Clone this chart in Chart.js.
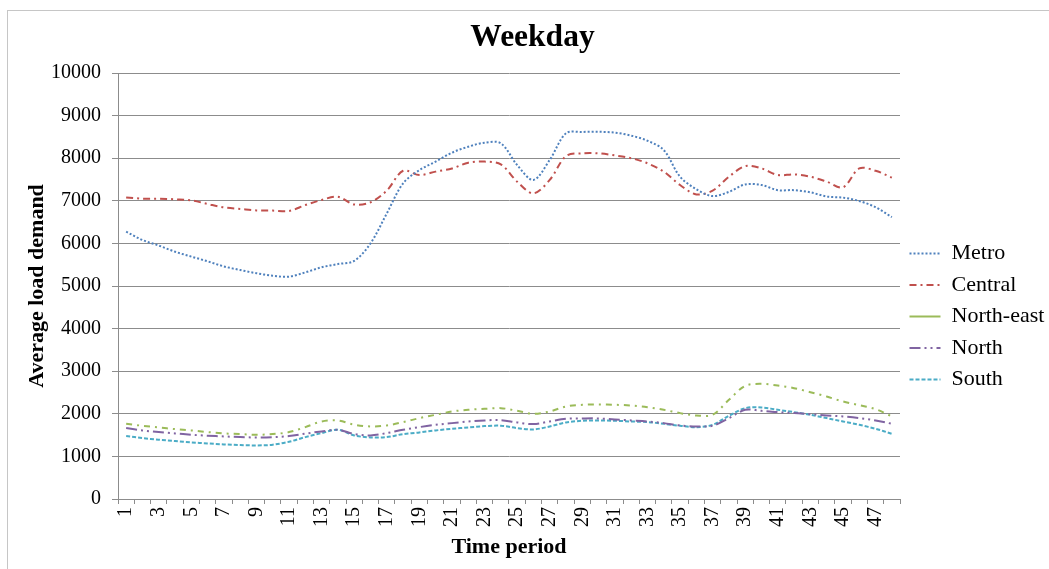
<!DOCTYPE html>
<html>
<head>
<meta charset="utf-8">
<title>Weekday</title>
<script src="https://cdn.jsdelivr.net/npm/chart.js@4/dist/chart.umd.min.js"></script>
<style>
  html, body { margin: 0; padding: 0; background: #fff; }
  #wrap { position: absolute; left: 0; top: 0; width: 1049px; height: 569px; }
  #frame { position: absolute; left: 7px; top: 10px; width: 1060px; height: 600px;
           border: 1px solid #c6c6c6; box-sizing: border-box; pointer-events: none; }
</style>
</head>
<body>
<div id="wrap"><canvas id="chart"></canvas></div>
<div id="frame"></div>
<script>
// Half-hour time periods of the day
const periods = ['1','2','3','4','5','6','7','8','9','10','11','12','13','14','15','16',
  '17','18','19','20','21','22','23','24','25','26','27','28','29','30','31','32',
  '33','34','35','36','37','38','39','40','41','42','43','44','45','46','47','48'];

// Average load demand per region
const metro = [6275, 6080, 5950, 5805, 5690, 5580, 5460, 5375, 5300, 5240,
  5220, 5320, 5440, 5515, 5590, 6000, 6705, 7410, 7720, 7920,
  8130, 8270, 8365, 8350, 7840, 7490, 7960, 8585, 8615, 8620,
  8600, 8530, 8410, 8190, 7565, 7270, 7110, 7210, 7385, 7370,
  7250, 7250, 7200, 7100, 7075, 6995, 6850, 6615];
const central = [7080, 7050, 7050, 7035, 7010, 6925, 6845, 6810, 6775, 6770,
  6760, 6900, 7020, 7095, 6915, 6965, 7240, 7705, 7605, 7685,
  7760, 7895, 7920, 7855, 7450, 7175, 7490, 8050, 8115, 8115,
  8065, 8000, 7880, 7685, 7370, 7150, 7240, 7565, 7815, 7760,
  7605, 7620, 7565, 7450, 7315, 7760, 7705, 7545];
const northEast = [1766, 1719, 1680, 1641, 1610, 1571, 1539, 1524, 1508, 1524,
  1571, 1688, 1820, 1844, 1742, 1703, 1726, 1805, 1898, 1977,
  2055, 2094, 2117, 2133, 2070, 2000, 2055, 2172, 2211, 2219,
  2211, 2195, 2156, 2094, 2016, 1961, 1977, 2328, 2656, 2703,
  2664, 2602, 2508, 2406, 2289, 2203, 2110, 1938];
const north = [1664, 1610, 1571, 1539, 1508, 1485, 1469, 1453, 1445, 1453,
  1477, 1535, 1586, 1625, 1524, 1492, 1547, 1625, 1688, 1742,
  1781, 1820, 1844, 1852, 1797, 1758, 1820, 1883, 1891, 1891,
  1867, 1844, 1820, 1781, 1727, 1703, 1719, 1899, 2094, 2070,
  2039, 2016, 1992, 1961, 1938, 1899, 1844, 1766];
const south = [1477, 1430, 1391, 1360, 1328, 1305, 1282, 1266, 1258, 1274,
  1344, 1453, 1547, 1625, 1492, 1445, 1453, 1524, 1563, 1610,
  1649, 1680, 1711, 1720, 1664, 1633, 1703, 1797, 1836, 1844,
  1836, 1820, 1805, 1766, 1719, 1684, 1742, 1953, 2133, 2148,
  2094, 2039, 1977, 1899, 1820, 1742, 1649, 1531];

const seriesNames = ['Metro', 'Central', 'North-east', 'North', 'South'];

const SERIF = "'Liberation Serif', 'Times New Roman', Times, serif";
const GRID = '#8c8c8c';

Chart.defaults.font.family = SERIF;
Chart.defaults.color = '#000';

function lineSet(label, data, color, dash, extra) {
  return Object.assign({
    label, data,
    borderColor: color,
    backgroundColor: color,
    borderWidth: 2,
    borderDash: dash,
    borderCapStyle: 'butt',
    pointRadius: 0,
    pointHoverRadius: 0,
    tension: 0.33,
    fill: false
  }, extra || {});
}

const datasets = [
  lineSet(seriesNames[0], metro, '#4F81BD', [2, 2]),
  lineSet(seriesNames[1], central, '#C0504D', [7, 4, 2, 4]),
  lineSet(seriesNames[2], northEast, '#9BBB59', [6, 5, 2, 5], { legendSolid: true }),
  lineSet(seriesNames[3], north, '#8064A2', [11, 4, 2, 4, 2, 4]),
  lineSet(seriesNames[4], south, '#4BACC6', [4, 2])
];

new Chart(document.getElementById('chart'), {
  type: 'line',
  data: { labels: periods, datasets },
  options: {
    responsive: true,
    maintainAspectRatio: false,
    animation: false,
    layout: { padding: { left: 16, right: 0, top: 0, bottom: 0 } },
    plugins: {
      title: {
        display: true,
        text: 'Weekday',
        color: '#000',
        font: { family: SERIF, size: 31.5, weight: 'bold' },
        padding: { top: 19, bottom: 16.2 }
      },
      legend: {
        position: 'right',
        align: 'center',
        maxWidth: 149,
        title: { display: true, text: '', font: { size: 10, lineHeight: 1 }, padding: { top: 54, bottom: 0 } },
        labels: {
          color: '#000',
          font: { family: SERIF, size: 22 },
          usePointStyle: true,
          pointStyle: 'line',
          pointStyleWidth: 31,
          padding: 9.5,
          generateLabels(chart) {
            const items = Chart.defaults.plugins.legend.labels.generateLabels(chart);
            items.forEach(it => {
              const ds = chart.data.datasets[it.datasetIndex];
              it.pointStyle = 'line';
              it.strokeStyle = ds.borderColor;
              it.lineWidth = ds.borderWidth;
              it.lineCap = 'butt';
              it.lineDash = ds.legendSolid ? [] : ds.borderDash;
            });
            return items;
          }
        }
      },
      tooltip: { enabled: false }
    },
    scales: {
      x: {
        type: 'category',
        offset: true,
        grid: { offset: true, drawOnChartArea: false, drawTicks: true, tickLength: 5, color: GRID },
        border: { color: GRID },
        ticks: {
          autoSkip: false,
          minRotation: 90,
          maxRotation: 90,
          padding: 3,
          color: '#000',
          font: { family: SERIF, size: 20 },
          callback: (v, i) => (i % 2 === 0 ? periods[i] : '')
        },
        title: {
          display: true,
          text: 'Time period',
          color: '#000',
          font: { family: SERIF, size: 22, weight: 'bold' },
          padding: { top: 0, bottom: 8 }
        },
        afterFit(scale) { scale.height = 70; }
      },
      y: {
        min: 0,
        max: 10000,
        grid: { color: GRID, tickLength: 6 },
        border: { color: GRID },
        ticks: {
          stepSize: 1000,
          padding: 11,
          color: '#000',
          font: { family: SERIF, size: 20 },
          callback: v => String(v)
        },
        title: {
          display: true,
          text: 'Average load demand',
          color: '#000',
          font: { family: SERIF, size: 22, weight: 'bold' },
          padding: { top: 8, bottom: 0 }
        },
        afterFit(scale) { scale.width = 102; }
      }
    }
  }
});
</script>
</body>
</html>
